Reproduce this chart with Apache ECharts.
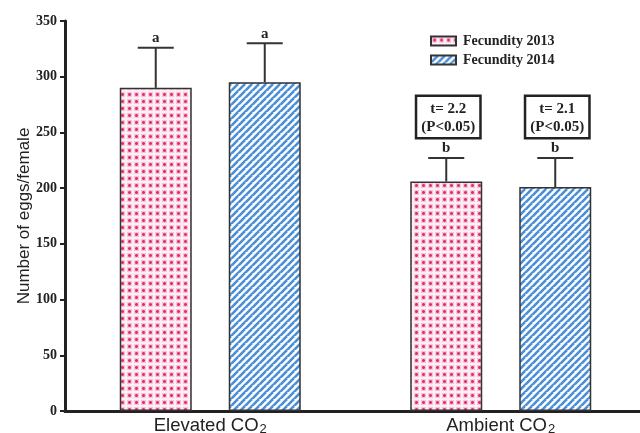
<!DOCTYPE html>
<html>
<head>
<meta charset="utf-8">
<script src="https://cdn.jsdelivr.net/npm/echarts@6/dist/echarts.min.js"></script>
<style>
  html, body { margin: 0; padding: 0; background: #fff; }
  #chart { width: 640px; height: 433px; }
</style>
</head>
<body>
<div id="chart"></div>
<script>
const categories = ['Elevated', 'Ambient'];
const seriesNames = ['Fecundity 2013', 'Fecundity 2014'];
const fec2013 = [290, 206];
const fec2014 = [295, 201];
const err2013 = [36, 21];
const err2014 = [35, 26];
const letters2013 = ['a', 'b'];
const letters2014 = ['a', 'b'];
const notes2013 = ['', 't= 2.2\n(P<0.05)'];
const notes2014 = ['', 't= 2.1\n(P<0.05)'];

// tiled fills for the bars
function dotTile() {
    const c = document.createElement('canvas');
    c.width = 7; c.height = 7;
    const g = c.getContext('2d');
    g.fillStyle = '#fdf0f5';
    g.fillRect(0, 0, 7, 7);
    g.fillStyle = '#f7c3d7';
    g.fillRect(1, 1, 5, 5);
    g.fillStyle = '#ec72a2';
    g.fillRect(2, 2, 3, 3);
    g.fillStyle = '#e02f74';
    g.fillRect(2, 3, 3, 1);
    g.fillRect(3, 2, 1, 3);
    return c;
}
function stripeTile() {
    const c = document.createElement('canvas');
    c.width = 7; c.height = 7;
    const g = c.getContext('2d');
    g.fillStyle = '#ffffff';
    g.fillRect(0, 0, 7, 7);
    g.strokeStyle = '#4a8fd6';
    g.lineWidth = 2.6;
    for (let k = -7; k <= 14; k += 7) {
        g.beginPath();
        g.moveTo(k - 7, 14);
        g.lineTo(k + 7, 0);
        g.stroke();
    }
    return c;
}
const pinkFill = { image: dotTile(), repeat: 'repeat' };
const blueFill = { image: stripeTile(), repeat: 'repeat' };

const barWidth = 72;
const barGapPx = 37;
const shift = (barWidth + barGapPx) / 2;

function errorSeries(values, errs, letters, notes, offset) {
    return {
        type: 'custom',
        silent: true,
        z: 5,
        data: values.map((v, i) => [i, v, v + errs[i], letters[i], notes[i]]),
        renderItem: function (params, api) {
            const i = api.value(0);
            const top = api.coord([i, api.value(1)]);
            const cap = api.coord([i, api.value(2)]);
            const x = top[0] + offset;
            const children = [
                { type: 'line', shape: { x1: x, y1: top[1], x2: x, y2: cap[1] },
                  style: { stroke: '#333', lineWidth: 2 } },
                { type: 'line', shape: { x1: x - 18, y1: cap[1], x2: x + 18, y2: cap[1] },
                  style: { stroke: '#333', lineWidth: 2 } },
                { type: 'text', x: x, y: cap[1] - 2,
                  style: { text: letters[i], fill: '#222', align: 'center', verticalAlign: 'bottom',
                           font: 'bold 15px "Liberation Serif", serif' } }
            ];
            if (notes[i]) {
                children.push({ type: 'text', x: x + 2, y: cap[1] - 21,
                  style: { text: notes[i], fill: '#222', align: 'center', verticalAlign: 'bottom',
                           font: 'bold 15px "Liberation Serif", serif', lineHeight: 18,
                           borderColor: '#222', borderWidth: 2.5, padding: [3, 4, 1, 4],
                           backgroundColor: '#fff' } });
            }
            return { type: 'group', children: children };
        }
    };
}

const chart = echarts.init(document.getElementById('chart'));
chart.setOption({
    animation: false,
    backgroundColor: '#fff',
    grid: { left: 65, right: -6, top: 21, bottom: 22, containLabel: false, outerBoundsMode: 'none' },
    legend: {
        orient: 'vertical',
        left: 425,
        top: 29,
        icon: 'rect',
        itemWidth: 25,
        itemHeight: 9,
        itemGap: 5,
        data: seriesNames,
        textStyle: { fontFamily: '"Liberation Serif", serif', fontWeight: 'bold', fontSize: 14, color: '#222', padding: [0, 0, 0, 2] }
    },
    xAxis: {
        type: 'category',
        data: categories,
        axisLine: { lineStyle: { color: '#222', width: 3 } },
        axisTick: { alignWithLabel: true, length: 4, lineStyle: { color: '#222', width: 2 } },
        axisLabel: {
            margin: 4,
            formatter: v => v + ' CO{sub|2}',
            color: '#222',
            fontFamily: '"Liberation Sans", Arial, sans-serif',
            fontSize: 18.5,
            rich: {
                sub: { fontSize: 13, verticalAlign: 'bottom', padding: [8, 0, 0, 1], color: '#222',
                       fontFamily: '"Liberation Sans", Arial, sans-serif' }
            }
        }
    },
    yAxis: {
        type: 'value',
        min: 0,
        max: 350,
        interval: 50,
        name: 'Number of eggs/female',
        nameLocation: 'middle',
        nameGap: 32,
        nameMoveOverlap: false,
        nameTextStyle: { fontFamily: '"Liberation Sans", Arial, sans-serif', fontSize: 17, color: '#222' },
        splitLine: { show: false },
        axisLine: { show: true, lineStyle: { color: '#222', width: 3 } },
        axisTick: { show: true, length: 5, lineStyle: { color: '#222', width: 2 } },
        axisLabel: { margin: 8, color: '#222', fontFamily: '"Liberation Serif", serif', fontWeight: 'bold', fontSize: 14 }
    },
    series: [
        {
            name: seriesNames[0],
            type: 'bar',
            data: fec2013,
            barWidth: barWidth,
            barGap: (barGapPx / barWidth * 100) + '%',
            itemStyle: { color: pinkFill, borderColor: '#333', borderWidth: 1.5 }
        },
        {
            name: seriesNames[1],
            type: 'bar',
            data: fec2014,
            barWidth: barWidth,
            itemStyle: { color: blueFill, borderColor: '#333', borderWidth: 1.5 }
        },
        errorSeries(fec2013, err2013, letters2013, notes2013, -shift),
        errorSeries(fec2014, err2014, letters2014, notes2014, shift)
    ]
});
</script>
</body>
</html>
